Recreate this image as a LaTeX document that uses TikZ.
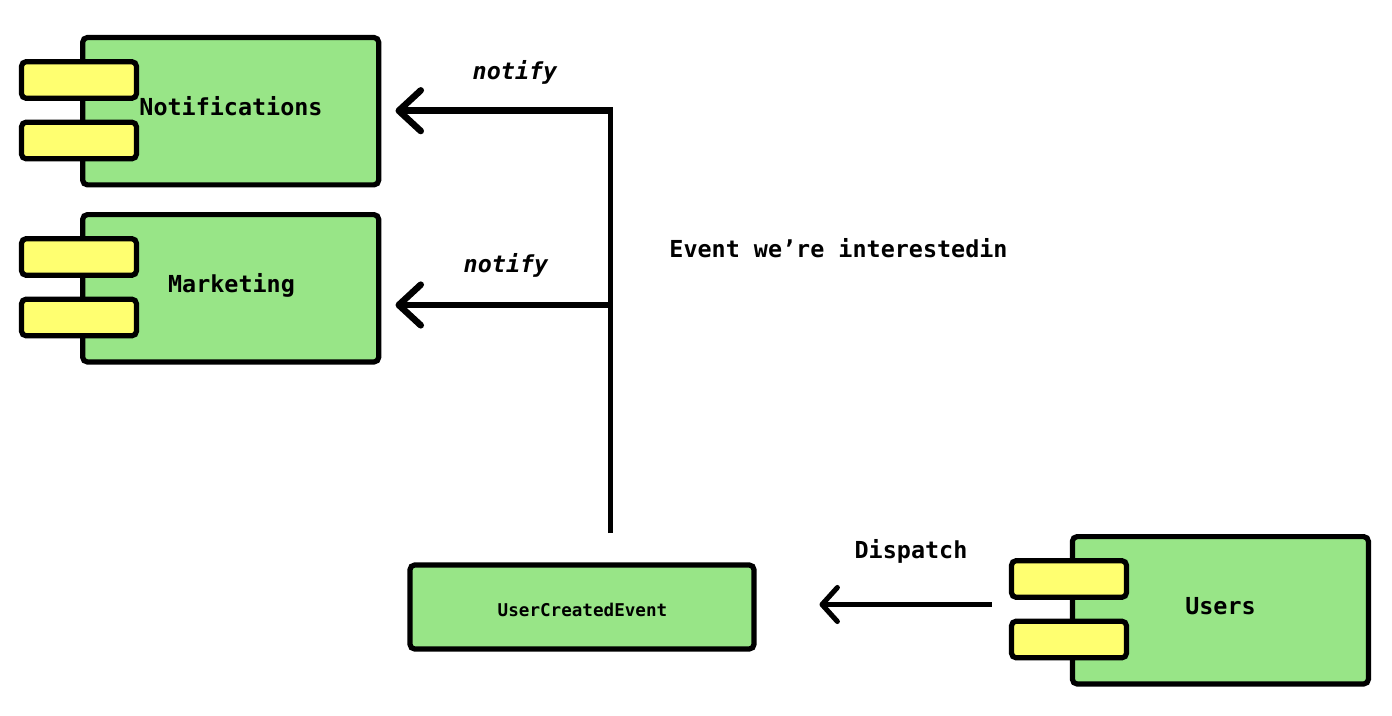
\documentclass[tikz,border=0pt]{standalone}
\usepackage{fontspec}
\setmonofont{DejaVu Sans Mono}
\usetikzlibrary{arrows.meta,calc}
\definecolor{boxgreen}{HTML}{98E587}
\definecolor{tabyellow}{HTML}{FFFF70}
\tikzset{
  x=0.75pt,y=-0.75pt,
  compbox/.style={draw=black,line width=3.9pt,fill=boxgreen,rounded corners=3.5pt,minimum width=222pt,minimum height=110.5pt,inner sep=0pt,anchor=center},
  evbox/.style={draw=black,line width=3.9pt,fill=boxgreen,rounded corners=3.5pt,minimum width=258pt,minimum height=63pt,inner sep=0pt,anchor=center},
  tabbox/.style={draw=black,line width=3.9pt,fill=tabyellow,rounded corners=3.5pt,minimum width=86.25pt,minimum height=27.5pt,inner sep=0pt,anchor=center},
  txt/.style={font=\ttfamily\bfseries\fontsize{17.55pt}{20pt}\selectfont,inner sep=0pt,anchor=center},
  smalltxt/.style={font=\ttfamily\bfseries\fontsize{13.2pt}{15pt}\selectfont,inner sep=0pt,anchor=center},
  ittxt/.style={font=\ttfamily\bfseries\itshape\fontsize{17.55pt}{20pt}\selectfont,inner sep=0pt,anchor=center},
  trunkline/.style={line width=3.5pt},
  bigarrow/.style={line width=4.9pt,-{Straight Barb[length=16.5pt,width=30.5pt,line width=4.9pt,round]}},
  smallarrow/.style={line width=3.8pt,-{Straight Barb[length=11.5pt,width=25.5pt,line width=3.8pt,round]}},
}
\begin{document}
\begin{tikzpicture}
\useasboundingbox (0,0) rectangle (1392,716);
\fill[white] (0,0) rectangle (1392,716);
% Notifications
\node[compbox] (notif) at (230.7,111.2) {};
\node[tabbox] (notifa) at (79,80) {};
\node[tabbox] (notifb) at (79,140.5) {};
\node[txt] (notiftext) at (231,106.5) {Notifications};
% Marketing
\node[compbox] (mark) at (230.7,288.3) {};
\node[tabbox] (marka) at (79,257) {};
\node[tabbox] (markb) at (79,317.5) {};
\node[txt] (marktext) at (231.5,285) {Marketing};
% Users
\node[compbox] (users) at (1220.4,610.3) {};
\node[tabbox] (usersa) at (1069,579) {};
\node[tabbox] (usersb) at (1069,639.5) {};
\node[txt] (userstext) at (1220.5,606) {Users};
% Event
\node[evbox] (event) at (582,607) {};
\node[smalltxt] (eventtext) at (582.5,610) {UserCreatedEvent};
% Connector ends
\coordinate (trunktop) at (610.3,108.5);
\coordinate (trunkbottom) at (610.3,533);
\coordinate (corner) at (612.7,110.7);
\coordinate (branch) at (610.3,305);
\coordinate (notifend) at (395.5,110.7);
\coordinate (markend) at (395.5,305);
\coordinate (dispstart) at (991.7,604.5);
\coordinate (dispend) at (819.5,604.5);
% Connectors
\draw[trunkline] (trunkbottom) -- (trunktop);
\draw[bigarrow] (corner) -- (notifend);
\draw[bigarrow] (branch) -- (markend);
\draw[smallarrow] (dispstart) -- (dispend);
% Labels
\node[ittxt] (n1) at (515,72.5) {notify};
\node[ittxt] (n2) at (506,265.5) {notify};
\node[txt] (interest) at (838.5,248.5) {Event we’re interestedin};
\node[txt] (dispatch) at (911,551) {Dispatch};
\end{tikzpicture}
\end{document}
